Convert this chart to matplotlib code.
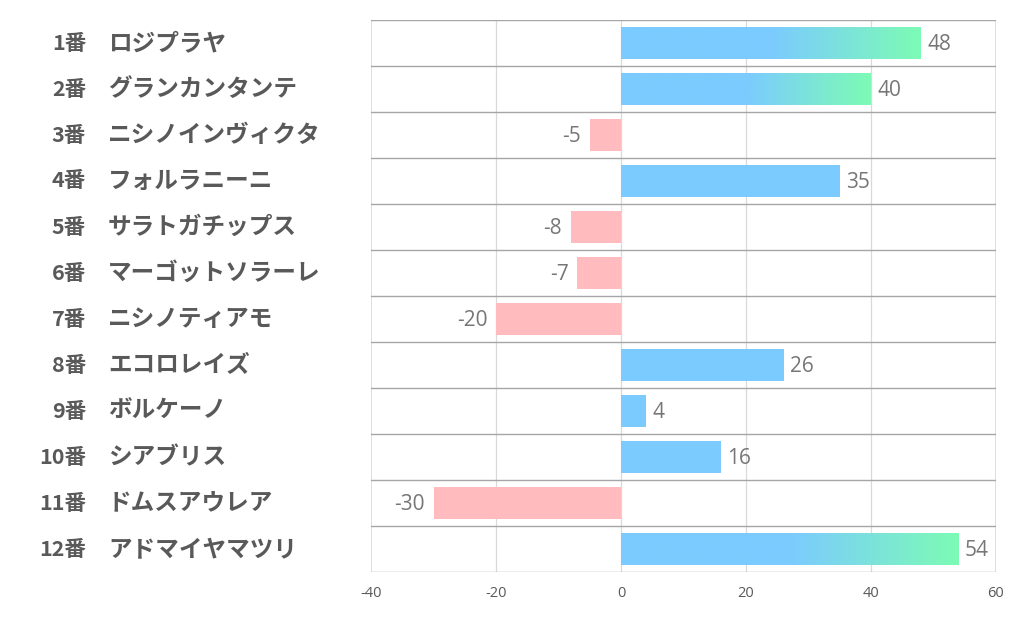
import numpy as np
import matplotlib
matplotlib.use("Agg")
import matplotlib.pyplot as plt
from matplotlib.colors import LinearSegmentedColormap

plt.rcParams['font.family'] = ['Noto Sans CJK JP', 'DejaVu Sans']

numbers = ["1番", "2番", "3番", "4番", "5番", "6番", "7番", "8番", "9番", "10番", "11番", "12番"]
names = ["ロジプラヤ", "グランカンタンテ", "ニシノインヴィクタ", "フォルラニーニ", "サラトガチップス",
         "マーゴットソラーレ", "ニシノティアモ", "エコロレイズ", "ボルケーノ", "シアブリス",
         "ドムスアウレア", "アドマイヤマツリ"]
values = [48, 40, -5, 35, -8, -7, -20, 26, 4, 16, -30, 54]
gradient_rows = [0, 1, 11]
xticks = [-40, -20, 0, 20, 40, 60]

BLUE = "#7BCBFF"
GREEN = "#7DFBB5"
PINK = "#FFBBBE"

fig = plt.figure(figsize=(10.22, 6.26), dpi=100)
W, H = 1022, 626
x0, x1, y0, y1 = 371, 996, 20, 572
ax = fig.add_axes([x0 / W, 1 - y1 / H, (x1 - x0) / W, (y1 - y0) / H])
ax.set_xlim(-40, 60)
n = len(values)
ax.set_ylim(n, 0)

for s in ax.spines.values():
    s.set_visible(False)
ax.axvline(-40, color="#D9D9D9", lw=1.2, zorder=0)
ax.axvline(60, color="#D9D9D9", lw=1.2, zorder=0)
for xt in xticks[1:-1]:
    ax.axvline(xt, color="#D9D9D9", lw=0.9, zorder=0)
for i in range(n + 1):
    ax.axhline(i, color="#A6A6A6", lw=1.0, zorder=1)

bh = 0.69
cmap = LinearSegmentedColormap.from_list("bg", [(0, BLUE), (0.5, BLUE), (1.0, GREEN)])
grad = np.linspace(0, 1, 256).reshape(1, -1)
num_font = ["Open Sans", "DejaVu Sans"]
for i, v in enumerate(values):
    yc = i + 0.5
    if v < 0:
        ax.barh(yc, v, height=bh, color=PINK, zorder=2)
        ax.text(v - 1.4, yc + 0.04, f"{v}", ha="right", va="center", fontsize=15,
                color="#767676", family=num_font)
    else:
        if i in gradient_rows:
            ax.imshow(grad, cmap=cmap, extent=[0, v, yc + bh / 2, yc - bh / 2],
                      aspect="auto", zorder=2, interpolation="bilinear")
        else:
            ax.barh(yc, v, height=bh, color=BLUE, zorder=2)
        ax.text(v + 1.0, yc + 0.04, f"{v}", ha="left", va="center", fontsize=15,
                color="#767676", family=num_font)

ax.set_xlim(-40, 60)
ax.set_ylim(n, 0)
ax.set_yticks([])
ax.set_xticks(xticks)
ax.set_xticklabels([str(t) for t in xticks], fontsize=10.5, color="#595959",
                   family=num_font)
ax.tick_params(axis="x", length=0, pad=10)

for i in range(n):
    yfig = 1 - (y0 + (i + 0.5) * (y1 - y0) / n) / H
    fig.text(86 / W, yfig, numbers[i], ha="right", va="center", fontsize=15.5,
             fontweight="bold", color="#595959")
    fig.text(108 / W, yfig, names[i], ha="left", va="center", fontsize=17,
             fontweight="bold", color="#595959")

fig.savefig("out.png", dpi=100)
